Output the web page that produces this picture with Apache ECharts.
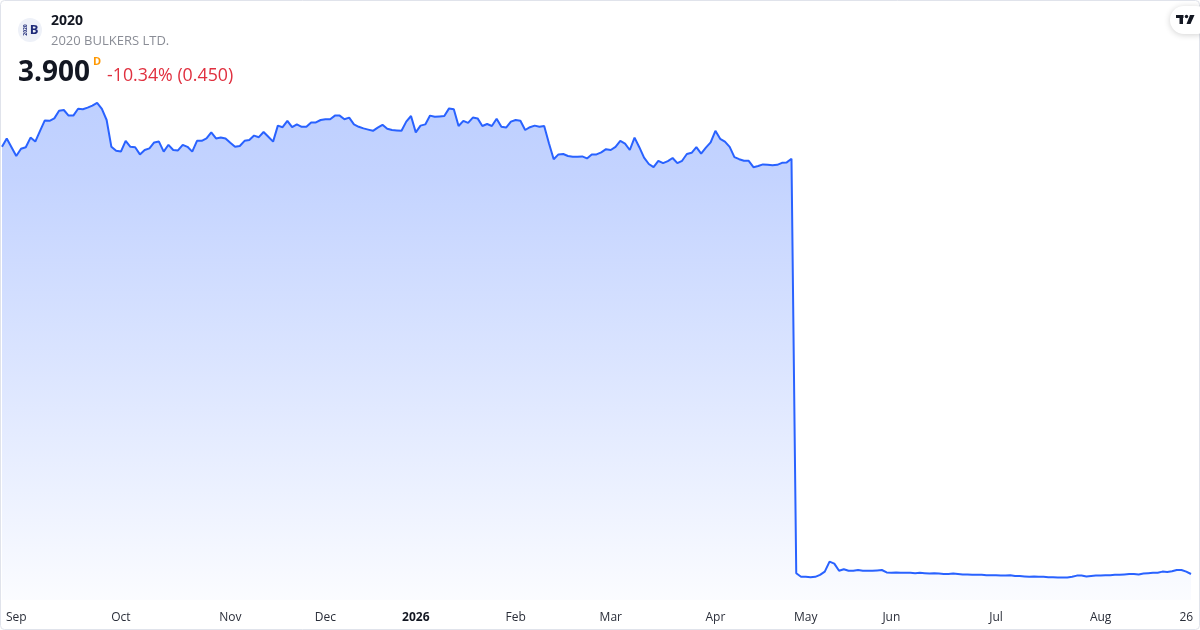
<!DOCTYPE html>
<html>
<head>
<meta charset="utf-8">
<script src="https://cdn.jsdelivr.net/npm/echarts@6/dist/echarts.min.js"></script>
<style>
  html, body { margin: 0; padding: 0; background: #ffffff; }
  #chart { width: 1200px; height: 630px; }
</style>
</head>
<body>
<div id="chart"></div>
<script>
// ---- Data (daily closes, trading days) ----
const prices = [
  14.58, 14.79, 14.57, 14.35, 14.53, 14.57, 14.81, 14.71, 14.98, 15.24,
  15.23, 15.29, 15.48, 15.50, 15.36, 15.36, 15.53, 15.52, 15.56, 15.61,
  15.68, 15.53, 15.25, 14.58, 14.48, 14.46, 14.73, 14.58, 14.57, 14.39,
  14.50, 14.54, 14.69, 14.71, 14.46, 14.63, 14.50, 14.49, 14.63, 14.58,
  14.46, 14.73, 14.73, 14.79, 14.94, 14.79, 14.81, 14.79, 14.68, 14.58,
  14.60, 14.73, 14.75, 14.86, 14.82, 14.95, 14.83, 14.71, 15.11, 15.07,
  15.23, 15.07, 15.14, 15.08, 15.08, 15.19, 15.19, 15.25, 15.27, 15.27,
  15.36, 15.36, 15.27, 15.31, 15.14, 15.08, 15.04, 15.01, 14.98, 15.06,
  15.13, 15.03, 15.00, 14.99, 14.98, 15.21, 15.35, 14.94, 15.11, 15.14,
  15.36, 15.33, 15.34, 15.35, 15.54, 15.52, 15.10, 15.23, 15.18, 15.31,
  15.29, 15.10, 15.15, 15.10, 15.28, 15.08, 15.06, 15.21, 15.25, 15.23,
  15.00, 15.07, 15.11, 15.08, 15.10, 14.67, 14.27, 14.39, 14.40, 14.35,
  14.33, 14.33, 14.34, 14.29, 14.39, 14.39, 14.44, 14.52, 14.50, 14.58,
  14.73, 14.66, 14.50, 14.81, 14.57, 14.31, 14.15, 14.07, 14.23, 14.17,
  14.22, 14.30, 14.17, 14.23, 14.40, 14.43, 14.57, 14.41, 14.56, 14.69,
  14.98, 14.78, 14.71, 14.58, 14.32, 14.27, 14.23, 14.23, 14.07, 14.10,
  14.14, 14.13, 14.12, 14.13, 14.18, 14.19, 14.28,
  3.92, 3.83, 3.83, 3.82, 3.83, 3.88, 3.96, 4.21, 4.16, 3.98,
  4.02, 3.98, 3.98, 4.00, 3.98, 3.98, 3.98, 3.99, 4.00, 3.94,
  3.93, 3.94, 3.93, 3.93, 3.93, 3.92, 3.93, 3.92, 3.91, 3.92,
  3.91, 3.90, 3.90, 3.91, 3.90, 3.89, 3.89, 3.88, 3.88, 3.88,
  3.87, 3.87, 3.87, 3.86, 3.86, 3.87, 3.85, 3.85, 3.84, 3.83,
  3.84, 3.83, 3.83, 3.82, 3.82, 3.81, 3.81, 3.81, 3.83, 3.86,
  3.86, 3.84, 3.85, 3.86, 3.86, 3.87, 3.87, 3.88, 3.88, 3.89,
  3.90, 3.90, 3.89, 3.91, 3.92, 3.93, 3.93, 3.96, 3.95, 3.97,
  4.00, 4.00, 3.96, 3.90
];
const categories = prices.map((_, i) => 'd' + i);
// [trading-day index, label]
const tickLabels = [
  [3, 'Sep'], [25, 'Oct'], [48, 'Nov'], [68, 'Dec'], [87, '2026'],
  [108, 'Feb'], [128, 'Mar'], [150, 'Apr'], [169, 'May'], [187, 'Jun'],
  [209, 'Jul'], [231, 'Aug'], [249, '26']
];
const boldLabels = ['2026'];
const header = {
  symbol: '2020',
  name: '2020 BULKERS LTD.',
  last: '3.900',
  interval: 'D',
  change: '-10.34% (0.450)'
};

const labelMap = {};
tickLabels.forEach(([i, t]) => { labelMap[i] = t; });

const chart = echarts.init(document.getElementById('chart'), null, { renderer: 'canvas' });
const font = '"Open Sans", "Noto Sans", sans-serif';

chart.setOption({
  animation: false,
  backgroundColor: '#ffffff',
  grid: { left: 2, right: 9, top: 90, bottom: 30, containLabel: false },
  xAxis: {
    type: 'category',
    data: categories,
    boundaryGap: false,
    axisLine: { show: false },
    axisTick: { show: false },
    splitLine: { show: false },
    axisLabel: {
      interval: (idx) => labelMap[idx] !== undefined,
      formatter: (v, idx) => {
        const t = labelMap[idx];
        if (t === undefined) return '';
        return boldLabels.includes(t) ? '{b|' + t + '}' : t;
      },
      color: '#2a2e39',
      fontSize: 12,
      fontFamily: font,
      margin: 12,
      rich: { b: { fontWeight: 'bold', fontSize: 12, color: '#131722', fontFamily: font } }
    }
  },
  yAxis: {
    type: 'value',
    min: 3.25,
    max: 16,
    show: false,
    splitLine: { show: false }
  },
  series: [{
    type: 'line',
    data: prices,
    showSymbol: false,
    symbol: 'none',
    lineStyle: { color: '#2962ff', width: 2 },
    itemStyle: { color: '#2962ff' },
    areaStyle: {
      origin: 'start',
      opacity: 1,
      color: new echarts.graphic.LinearGradient(0, 0, 0, 1, [
        { offset: 0, color: 'rgba(41,98,255,0.30)' },
        { offset: 0.15, color: 'rgba(41,98,255,0.28)' },
        { offset: 0.55, color: 'rgba(41,98,255,0.16)' },
        { offset: 1, color: 'rgba(41,98,255,0.02)' }
      ])
    }
  }],
  graphic: [
    { type: 'rect', shape: { x: 0.5, y: 0.5, width: 1199, height: 629, r: 4 },
      style: { fill: 'none', stroke: '#e0e3eb', lineWidth: 1 }, z: 10 },
    // logo
    { type: 'circle', shape: { cx: 30, cy: 30, r: 12 }, style: { fill: '#eef1f8' }, z: 10 },
    { type: 'text', x: 26, y: 30, rotation: Math.PI / 2,
      style: { text: '2020', fontSize: 5, fontWeight: 'bold', fill: '#1e2a78', align: 'center', verticalAlign: 'middle', fontFamily: font }, z: 11 },
    { type: 'text', x: 34, y: 30,
      style: { text: 'B', fontSize: 13, fontWeight: 'bold', fill: '#1e2a78', align: 'center', verticalAlign: 'middle', fontFamily: font }, z: 11 },
    // header texts
    { type: 'text', x: 51, y: 21,
      style: { text: header.symbol, fontSize: 14, fontWeight: 'bold', fill: '#131722', verticalAlign: 'middle', fontFamily: font }, z: 10 },
    { type: 'text', x: 51, y: 41,
      style: { text: header.name, fontSize: 13, fill: '#8a8d96', verticalAlign: 'middle', fontFamily: font }, z: 10 },
    { type: 'text', x: 18, y: 73,
      style: { text: header.last, fontSize: 28, fontWeight: 'bold', fill: '#131722', verticalAlign: 'middle', fontFamily: font }, z: 10 },
    { type: 'text', x: 93, y: 62,
      style: { text: header.interval, fontSize: 11, fontWeight: 'bold', fill: '#ff9800', verticalAlign: 'middle', fontFamily: font }, z: 10 },
    { type: 'text', x: 107, y: 76,
      style: { text: header.change, fontSize: 17.8, fill: '#e0303f', verticalAlign: 'middle', fontFamily: font }, z: 10 },
    // TradingView badge
    { type: 'rect', shape: { x: 1170, y: 6, width: 40, height: 28, r: 14 },
      style: { fill: '#ffffff', shadowBlur: 6, shadowColor: 'rgba(0,0,0,0.18)', shadowOffsetY: 1 }, z: 10 },
    { type: 'rect', shape: { x: 1176, y: 15, width: 7.5, height: 3 }, style: { fill: '#131722' }, z: 11 },
    { type: 'rect', shape: { x: 1179.5, y: 15, width: 3.5, height: 9 }, style: { fill: '#131722' }, z: 11 },
    { type: 'circle', shape: { cx: 1186.5, cy: 16.5, r: 1.7 }, style: { fill: '#131722' }, z: 11 },
    { type: 'polygon', shape: { points: [[1190, 15], [1194.5, 15], [1190.5, 24], [1186.5, 24]] }, style: { fill: '#131722' }, z: 11 }
  ]
});
</script>
</body>
</html>
